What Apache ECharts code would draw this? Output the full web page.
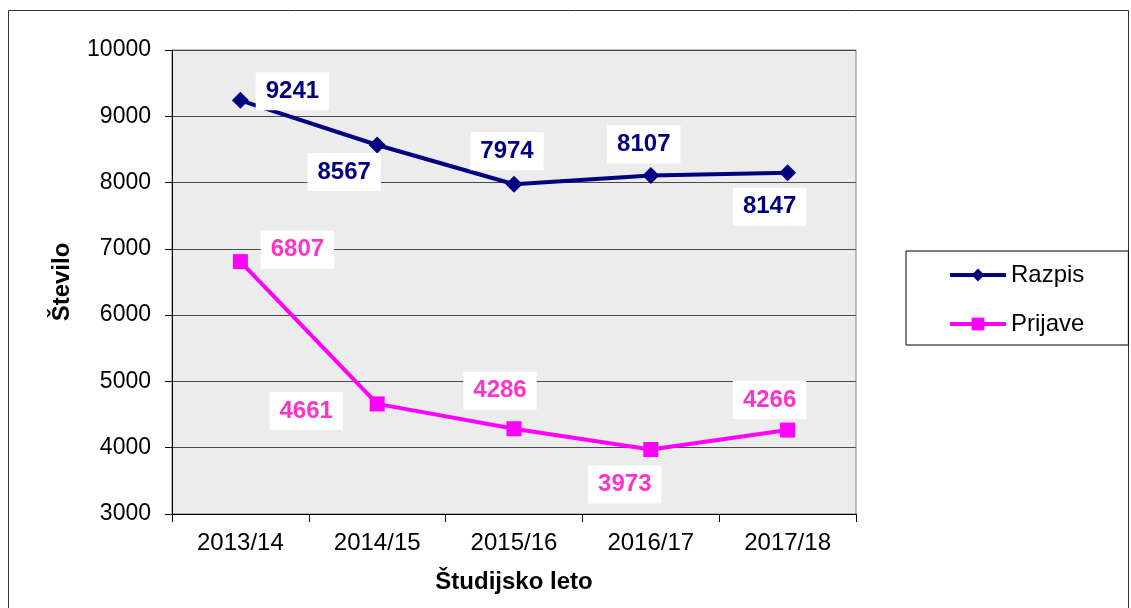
<!DOCTYPE html>
<html>
<head>
<meta charset="utf-8">
<script src="https://cdn.jsdelivr.net/npm/echarts@6/dist/echarts.min.js"></script>
<style>
  html, body { margin: 0; padding: 0; background: #fff; }
  #chart { width: 1131px; height: 608px; }
</style>
</head>
<body>
<div id="chart"></div>
<script>
// podatki
const years = ['2013/14', '2014/15', '2015/16', '2016/17', '2017/18'];
const razpis = [9241, 8567, 7974, 8107, 8147];
const prijave = [6807, 4661, 4286, 3973, 4266];

// odmiki oznak (px) glede na točko
const razpisOffsets = [[52, -9], [-33, 27], [-7, -33], [-7, -31], [-18, 34]];
const prijaveOffsets = [[57, -12], [-71, 7], [-14, -38], [-26, 35], [-18, -30]];

const font = 'Arial, "Liberation Sans", sans-serif';

function withLabels(values, offsets, color) {
  return values.map((v, i) => ({
    value: v,
    label: {
      show: true,
      position: 'inside',
      offset: offsets[i],
      color: color,
      fontFamily: font,
      fontSize: 24,
      fontWeight: 'bold',
      lineHeight: 24,
      backgroundColor: '#fff',
      padding: [8, 10, 6, 10]
    }
  }));
}

const myChart = echarts.init(document.getElementById('chart'));

const option = {
  animation: false,
  textStyle: { fontFamily: font },
  graphic: [{
    type: 'rect',
    shape: { x: 8.5, y: 10.5, width: 1120, height: 620 },
    style: { fill: 'none', stroke: '#333', lineWidth: 1 },
    z: -10
  }],
  grid: {
    left: 172, right: 275, top: 50, bottom: 94,
    show: true,
    backgroundColor: '#ececec',
    borderColor: '#808080',
    borderWidth: 1
  },
  legend: {
    orient: 'vertical',
    left: 906, top: 251,
    padding: [12, 44, 9, 42],
    itemGap: 25,
    itemWidth: 56, itemHeight: 16,
    itemTextGap: 3,
    backgroundColor: '#fff',
    borderColor: '#000',
    borderWidth: 1,
    lineStyle: { width: 4 },
    textStyle: { fontSize: 24, lineHeight: 24, color: '#000', fontFamily: font },
    data: ['Razpis', 'Prijave']
  },
  xAxis: {
    type: 'category',
    data: years,
    boundaryGap: true,
    name: 'Študijsko leto',
    nameLocation: 'middle',
    nameGap: 56,
    nameTextStyle: { fontSize: 24, fontWeight: 'bold', color: '#000' },
    axisLine: { lineStyle: { color: '#000', width: 1 } },
    axisTick: { show: true, length: 8, lineStyle: { color: '#000' } },
    axisLabel: { fontSize: 24, color: '#000', margin: 17 }
  },
  yAxis: {
    type: 'value',
    min: 3000, max: 10000, interval: 1000,
    name: 'Število',
    nameLocation: 'middle',
    nameGap: 98,
    nameTextStyle: { fontSize: 24, fontWeight: 'bold', color: '#000' },
    axisLine: { show: true, lineStyle: { color: '#000', width: 1 } },
    axisTick: { show: true, length: 7, lineStyle: { color: '#000' } },
    axisLabel: { fontSize: 23, color: '#000', margin: 21, formatter: v => String(v) },
    splitLine: { lineStyle: { color: '#4a4a4a', width: 1 } }
  },
  series: [
    {
      name: 'Razpis',
      type: 'line',
      data: withLabels(razpis, razpisOffsets, '#000080'),
      symbol: 'diamond',
      symbolSize: 17,
      color: '#000080',
      lineStyle: { width: 4, color: '#000080' },
      itemStyle: { color: '#000080' },
      z: 3
    },
    {
      name: 'Prijave',
      type: 'line',
      data: withLabels(prijave, prijaveOffsets, '#ff33cc'),
      symbol: 'rect',
      symbolSize: 15,
      color: '#ff00ff',
      lineStyle: { width: 4, color: '#ff00ff' },
      itemStyle: { color: '#ff00ff' },
      z: 3
    }
  ]
};

myChart.setOption(option);
window.addEventListener('resize', () => {
  myChart.resize();
});
</script>
</body>
</html>
